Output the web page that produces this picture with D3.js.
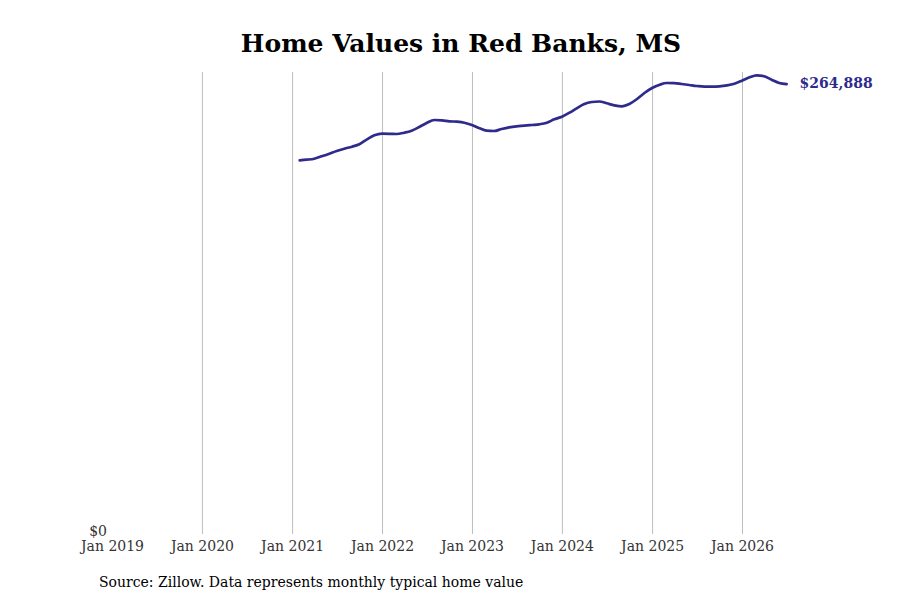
<!DOCTYPE html>
<html>
<head>
<meta charset="utf-8">
<script src="https://cdn.jsdelivr.net/npm/d3@7/dist/d3.min.js"></script>
<style>
  body { margin: 0; background: #fff; }
  svg { display: block; font-family: "DejaVu Serif", serif; }
</style>
</head>
<body>
<div id="viz"></div>
<script>
// monthly typical home value, Feb 2021 .. Jul 2026
var startMonth = "2021-02";
var homeValues = [
  220100, 220480, 221065, 222475, 224000, 225590, 226940, 228120, 229525, 232460, 234810,
  235760, 235700, 235575, 236340, 237515, 239690, 242040, 243800, 243625, 243040, 242800, 242215,
  240860, 238920, 237515, 237340, 238510, 239510, 240100, 240450, 240860, 241270, 242215, 244210,
  245740, 248090, 250670, 253200, 254375, 254670, 253610, 252435, 251850, 253200, 256135, 259660,
  262600, 264540, 265535, 265500, 264950, 264360, 263775, 263365, 263400, 263600, 264180, 265125,
  266890, 268880, 270060, 269470, 267475, 265535, 264888
];
var tickYears = [2019, 2020, 2021, 2022, 2023, 2024, 2025, 2026];
var yTicks = [0];

var width = 900, height = 600;
var lineColor = "#2e2b8c";

var parse = d3.timeParse("%Y-%m");
var t0 = parse(startMonth);
var data = homeValues.map((v, i) => ({ date: d3.timeMonth.offset(t0, i), value: v }));

var x = d3.scaleTime()
  .domain([new Date(2019, 0, 1), new Date(2026, 6, 1)])
  .range([112, 786.6]);
var y = d3.scaleLinear()
  .domain([0, 272000])
  .range([535, 72]);

var svg = d3.select("#viz").append("svg")
  .attr("width", width)
  .attr("height", height);

svg.append("text")
  .attr("x", 461)
  .attr("y", 52)
  .attr("text-anchor", "middle")
  .style("font-size", "25px")
  .style("font-weight", "bold")
  .attr("fill", "#000")
  .text("Home Values in Red Banks, MS");

// vertical grid at each January (first one sits on the hidden y axis)
var tickDates = tickYears.map(yr => new Date(yr, 0, 1));
svg.append("g")
  .selectAll("line")
  .data(tickDates.slice(1))
  .enter().append("line")
  .attr("x1", d => x(d) + 0.5)
  .attr("x2", d => x(d) + 0.5)
  .attr("y1", 72)
  .attr("y2", 534)
  .attr("stroke", "#bdbdbd")
  .attr("stroke-width", 1);

var xAxis = svg.append("g")
  .attr("transform", "translate(0,535)")
  .call(d3.axisBottom(x).tickValues(tickDates).tickFormat(d3.timeFormat("Jan %Y")).tickSize(0).tickPadding(6));
xAxis.select(".domain").remove();
xAxis.selectAll("text")
  .style("font-family", "DejaVu Serif")
  .style("font-size", "14px")
  .attr("fill", "#333");

var yAxis = svg.append("g")
  .attr("transform", "translate(107,-4)")
  .call(d3.axisLeft(y).tickValues(yTicks).tickFormat(d => "$" + d3.format(",")(d)).tickSize(0).tickPadding(0));
yAxis.select(".domain").remove();
yAxis.selectAll("text")
  .style("font-family", "DejaVu Serif")
  .style("font-size", "14px")
  .attr("fill", "#333");

var line = d3.line()
  .x(d => x(d.date))
  .y(d => y(d.value))
  .curve(d3.curveMonotoneX);

svg.append("path")
  .datum(data)
  .attr("fill", "none")
  .attr("stroke", lineColor)
  .attr("stroke-width", 2.7)
  .attr("stroke-linejoin", "round")
  .attr("stroke-linecap", "round")
  .attr("d", line);

var last = data[data.length - 1];
svg.append("text")
  .attr("x", x(last.date) + 13)
  .attr("y", y(last.value) - 1)
  .attr("dy", "0.35em")
  .style("font-size", "14px")
  .style("font-weight", "bold")
  .attr("fill", lineColor)
  .text("$" + d3.format(",")(last.value));

svg.append("text")
  .attr("x", 99)
  .attr("y", 587)
  .style("font-size", "14px")
  .attr("fill", "#000")
  .text("Source: Zillow. Data represents monthly typical home value");
</script>
</body>
</html>
